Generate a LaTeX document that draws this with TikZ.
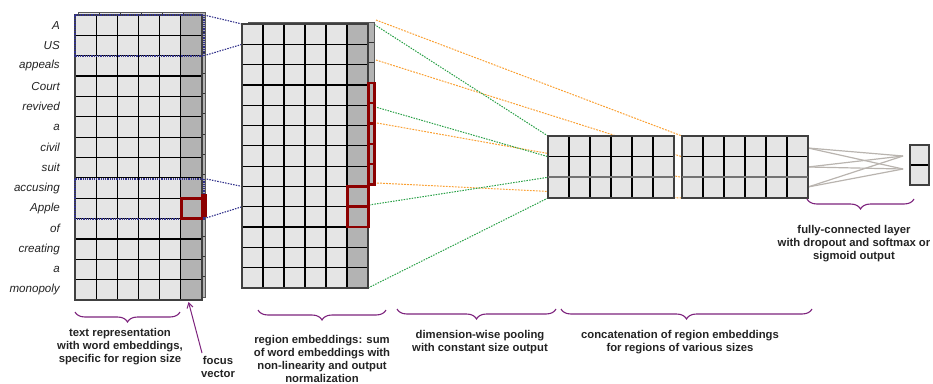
\documentclass[tikz,border=0pt]{standalone}
\usepackage{fontspec}
\setmainfont{Liberation Sans}
\usetikzlibrary{decorations.pathreplacing,arrows.meta}

\definecolor{cellfill}{RGB}{229,229,229}
\definecolor{focusfill}{RGB}{179,179,179}
\definecolor{focusred}{RGB}{140,0,0}
\definecolor{winblue}{RGB}{50,50,140}
\definecolor{poolgreen}{RGB}{40,160,70}
\definecolor{catorange}{RGB}{250,160,50}
\definecolor{bracepurple}{RGB}{125,35,125}
\definecolor{fcgray}{RGB}{185,180,175}
\definecolor{textgray}{RGB}{35,35,35}

% \embgrid{x0}{y0}{cell w}{cell h}{cols}{rows}{1 = dark last column}
\newcommand{\embgrid}[7]{%
  \pgfmathsetmacro{\gxe}{#1+#5*#3}%
  \pgfmathsetmacro{\gye}{#2+#6*#4}%
  \fill[cellfill] (#1,#2) rectangle (\gxe,\gye);
  \ifnum#7>0 \fill[focusfill] ({\gxe-#3},#2) rectangle (\gxe,\gye);\fi
  \foreach \gi in {1,...,#5}{\draw[gridline] ({#1+\gi*#3},#2) -- ({#1+\gi*#3},\gye);}
  \foreach \gj in {1,...,#6}{\draw[gridline] (#1,{#2+\gj*#4}) -- (\gxe,{#2+\gj*#4});}
  \draw[gridrim] (#1,#2) rectangle (\gxe,\gye);
}

\begin{document}
\begin{tikzpicture}[x=1pt,y=-1pt,
  gridline/.style={black, line width=1.2pt},
  gridrim/.style={black!75, line width=1.3pt},
  backlayer/.style={gridline/.style={black!80, line width=0.8pt},
                    gridrim/.style={black!65, line width=0.9pt}},
  word/.style={anchor=east, inner sep=0pt, text=textgray,
    font=\fontsize{11.6}{13}\selectfont\itshape},
  caption/.style={align=center, inner sep=0pt, text=textgray,
    font=\fontsize{11.3}{13}\selectfont\bfseries},
  window/.style={winblue, line width=2pt, dash pattern=on 0.9pt off 0.9pt},
  winlink/.style={winblue, line width=1.1pt, dash pattern=on 1.5pt off 1.2pt},
  greenlink/.style={poolgreen, line width=1pt, dash pattern=on 1.5pt off 1.2pt},
  orangelink/.style={catorange, line width=1pt, dash pattern=on 1.8pt off 1.2pt},
  fclink/.style={fcgray, line width=1.2pt},
  focusbox/.style={focusred, line width=2.8pt},
  focusside/.style={focusred, line width=2.2pt},
  brace/.style={bracepurple, line width=1.1pt,
    decorate, decoration={brace, mirror, amplitude=10pt}},
]
\useasboundingbox (0,0) rectangle (933,383);

% ---------- connector end points ----------
\coordinate (l1a) at (204,15);    \coordinate (m1a) at (242,24);
\coordinate (l1b) at (204,55.7);  \coordinate (m1b) at (242,44.3);
\coordinate (l2a) at (204,178.5); \coordinate (m2a) at (242,186.4);
\coordinate (l2b) at (204,218.6); \coordinate (m2b) at (242,206.7);

\coordinate (g1s) at (372,23);  \coordinate (p1a) at (548,136);
\coordinate (g2s) at (372,106); \coordinate (p1b) at (548,156.7);
\coordinate (g3s) at (369,205); \coordinate (p1c) at (548,177.3);
\coordinate (g4s) at (368,288); \coordinate (p1d) at (548,198);

\coordinate (o1s) at (376,20);  \coordinate (q1a) at (682,136);
\coordinate (o2s) at (376,60);  \coordinate (q1b) at (682,156.7);
\coordinate (o3s) at (377,123); \coordinate (q1c) at (682,177.3);
\coordinate (o4s) at (377,183); \coordinate (q1d) at (682,198);

\coordinate (f1) at (808,148); \coordinate (f2) at (808,167); \coordinate (f3) at (808,187);
\coordinate (t1) at (903,156); \coordinate (t2) at (903,169);

% ---------- connectors (drawn under the blocks) ----------
\draw[winlink] (l1a) -- (m1a);
\draw[winlink] (l1b) -- (m1b);
\draw[winlink] (l2a) -- (m2a);
\draw[winlink] (l2b) -- (m2b);

\draw[orangelink] (o1s) -- (q1a);
\draw[orangelink] (o2s) -- (q1b);
\draw[orangelink] (o3s) -- (q1c);
\draw[orangelink] (o4s) -- (q1d);

\draw[greenlink] (g1s) -- (p1a);
\draw[greenlink] (g2s) -- (p1b);
\draw[greenlink] (g3s) -- (p1c);
\draw[greenlink] (g4s) -- (p1d);

\foreach \s in {f1,f2,f3}{
  \foreach \t in {t1,t2}{\draw[fclink] (\s) -- (\t);}
}

% ---------- text representation: stack of word-embedding grids ----------
\begin{scope}[backlayer]
  \embgrid{78}{12}{21.17}{20.36}{6}{14}{1}
\end{scope}
\embgrid{75}{15}{21.17}{20.36}{6}{14}{1}

\foreach \w [count=\i] in {A,US,appeals,Court,revived,a,civil,suit,accusing,Apple,of,creating,a,monopoly}{
  \node[word] (w\i) at (60,{15+(\i-0.5)*20.36}) {\w};
}

% region windows of size two
\draw[window] (74.5,14.5) rectangle (203.5,56);
\draw[window] (74.5,178.5) rectangle (203.5,219);

% focus vector of the current window
\draw[focusside] (202.5,195.2) rectangle (205.5,215.6);
\draw[focusbox] (181.2,198.2) rectangle (202,218.6);

% ---------- region embeddings: stacked layers ----------
\begin{scope}[backlayer]
  \embgrid{248.5}{22}{21}{20.3}{6}{8}{1}
\end{scope}
\embgrid{242}{24}{21}{20.3}{6}{13}{1}

\foreach \k in {4,...,8}{
  \draw[focusside] (368.5,{22+(\k-1)*20.3}) rectangle (374.5,{22+\k*20.3});
}
\draw[focusbox] (347.5,186.4) rectangle (368.5,206.7);
\draw[focusbox] (347.5,206.7) rectangle (368.5,227);

% ---------- pooled outputs and their concatenation ----------
\embgrid{548}{136}{21}{20.67}{6}{3}{0}
\draw[black!55, line width=1.8pt] (548,177.3) -- (674,177.3);
\embgrid{682}{136}{21}{20.67}{6}{3}{0}
\draw[black!55, line width=1.8pt] (682,177.3) -- (808,177.3);

% ---------- output layer ----------
\embgrid{910}{145}{19}{20}{1}{2}{0}

% ---------- braces and captions ----------
\draw[brace] (75,312) -- (180,312);
\draw[brace] (258,310) -- (386,310);
\draw[brace] (397,309) -- (556,309);
\draw[brace] (561,309) -- (812,309);
\draw[brace] (807,199) -- (914,199);

\node[caption] (captext) at (120,347) {text representation\\with word embeddings,\\specific for region size};
\node[caption] (capfocus) at (218,366.5) {focus\\vector};
\node[caption] (capregion) at (322,358.5) {region embeddings: sum\\of word embeddings with\\non-linearity and output\\normalization};
\node[caption] (cappool) at (480,342.5) {dimension-wise pooling\\with constant size output};
\node[caption] (capconcat) at (680,342.5) {concatenation of region embeddings\\for regions of various sizes};
\node[caption] (capfc) at (854,243.5) {fully-connected layer\\with dropout and softmax or\\sigmoid output};

\coordinate (fvfoot) at (202,353);
\coordinate (fvtip) at (188.5,302);
\draw[bracepurple, line width=1pt, -{Straight Barb[length=5pt,width=6pt]}] (fvfoot) -- (fvtip);
\end{tikzpicture}
\end{document}
